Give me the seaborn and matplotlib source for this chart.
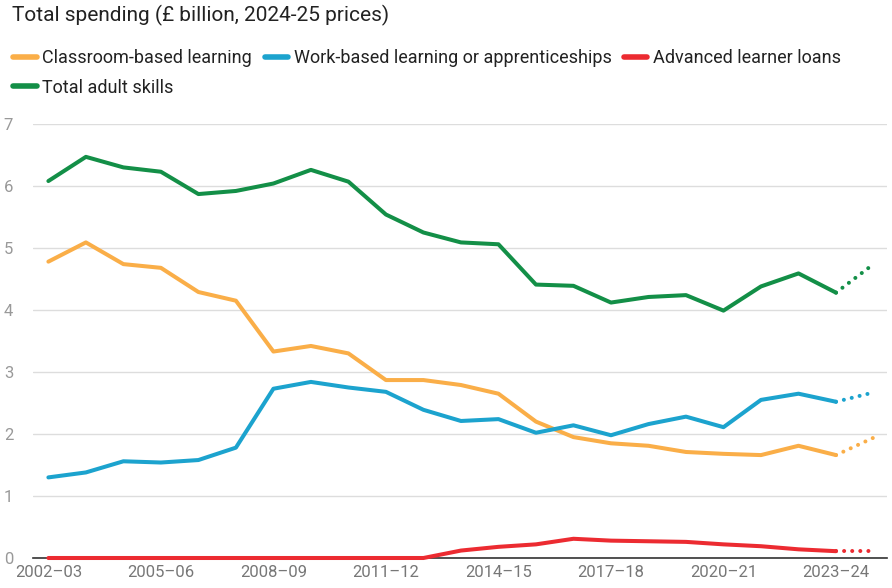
import matplotlib
matplotlib.use("Agg")
import matplotlib.pyplot as plt
from matplotlib.lines import Line2D
import seaborn as sns

sns.set_theme(style="white")
plt.rcParams['font.family'] = ['Roboto', 'DejaVu Sans']

years = ["2002–03", "2003–04", "2004–05", "2005–06", "2006–07", "2007–08",
         "2008–09", "2009–10", "2010–11", "2011–12", "2012–13", "2013–14",
         "2014–15", "2015–16", "2016–17", "2017–18", "2018–19", "2019–20",
         "2020–21", "2021–22", "2022–23", "2023–24", "2024–25"]

classroom = [4.78, 5.09, 4.74, 4.68, 4.29, 4.15, 3.33, 3.42, 3.30, 2.87, 2.87,
             2.79, 2.65, 2.20, 1.95, 1.85, 1.81, 1.71, 1.68, 1.66, 1.81, 1.66, 1.94]
work_based = [1.30, 1.38, 1.56, 1.54, 1.58, 1.78, 2.73, 2.84, 2.75, 2.68, 2.39,
              2.21, 2.24, 2.02, 2.14, 1.98, 2.16, 2.28, 2.11, 2.55, 2.65, 2.52, 2.67]
loans = [0, 0, 0, 0, 0, 0, 0, 0, 0, 0, 0,
         0.12, 0.18, 0.22, 0.31, 0.28, 0.27, 0.26, 0.22, 0.19, 0.14, 0.11, 0.11]
total = [6.08, 6.47, 6.30, 6.23, 5.87, 5.92, 6.04, 6.26, 6.07, 5.54, 5.25,
         5.09, 5.06, 4.41, 4.39, 4.12, 4.21, 4.24, 3.99, 4.38, 4.59, 4.28, 4.74]

series = [
    ("Classroom-based learning", classroom, "#FAAE48"),
    ("Work-based learning or apprenticeships", work_based, "#1CA3CE"),
    ("Advanced learner loans", loans, "#EC2B31"),
    ("Total adult skills", total, "#138F47"),
]

fig = plt.figure(figsize=(8.92, 5.88), dpi=100)
ax = fig.add_axes([33 / 892, 1 - 558 / 588, (887 - 33) / 892, (558 - 124) / 588])

idx = list(range(len(years)))
last = len(years) - 1
for name, vals, col in series:
    # actual figures, solid
    sns.lineplot(x=idx[:last], y=vals[:last], ax=ax, color=col, lw=2.9,
                 solid_capstyle="round", solid_joinstyle="round", clip_on=False, zorder=3)
    # final year (planned) dotted
    sns.lineplot(x=idx[last - 1:], y=vals[last - 1:], ax=ax, color=col, lw=2.9,
                 linestyle=(0, (0.01, 2.0)), dash_capstyle="round", clip_on=False, zorder=3)

ax.set_xlim(-0.41, 22.36)
ax.set_ylim(0, 7)
ax.set_yticks(range(8))
tick_pos = list(range(0, last, 3))
ax.set_xticks(tick_pos)
ax.set_xticklabels([years[i] for i in tick_pos])
ax.grid(axis="y", color="#dddddd", lw=1)
ax.grid(axis="x", visible=False)
for s in ["top", "right", "left"]:
    ax.spines[s].set_visible(False)
ax.spines["bottom"].set_color("#333333")
ax.spines["bottom"].set_linewidth(1.2)
ax.spines["bottom"].set_zorder(2)
ax.tick_params(axis="y", length=0, labelsize=12, labelcolor="#999999")
ax.tick_params(axis="x", length=0, pad=5, labelsize=12, labelcolor="#777777")
for lab in ax.get_yticklabels():
    lab.set_horizontalalignment("left")
ax.yaxis.set_tick_params(pad=21)

fig.text(0.014, 0.973, "Total spending (£ billion, 2024-25 prices)",
         fontsize=15, color="#222222", va="center", ha="left")

handles = {name: Line2D([0], [0], color=col, lw=4, solid_capstyle="round")
           for name, vals, col in series}
order = ["Classroom-based learning", "Total adult skills",
         "Work-based learning or apprenticeships", "Advanced learner loans"]
fig.legend([handles[n] for n in order], order, ncol=3, loc="upper left",
           bbox_to_anchor=(0.011, 0.922), frameon=False, fontsize=13,
           handlelength=1.28, handletextpad=0.32, columnspacing=0.7,
           labelspacing=0.62, borderaxespad=0, borderpad=0.2,
           labelcolor="#222222")

fig.savefig("out.png", dpi=100)
